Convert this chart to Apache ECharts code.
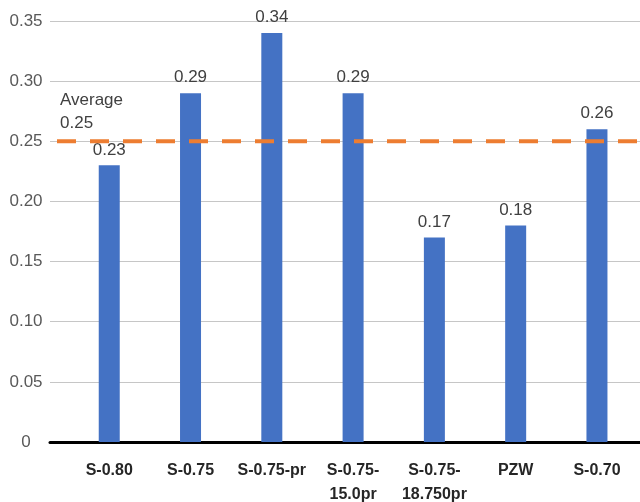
<!DOCTYPE html>
<html>
<head>
<meta charset="utf-8">
<script src="https://cdn.jsdelivr.net/npm/echarts@6/dist/echarts.min.js"></script>
<style>
  html, body { margin: 0; padding: 0; background: #fff; }
  #chart { width: 640px; height: 502px; }
</style>
</head>
<body>
<div id="chart"></div>
<script>
// Specimen names and their measured values
const categories = ['S-0.80', 'S-0.75', 'S-0.75-pr', 'S-0.75-\n15.0pr', 'S-0.75-\n18.750pr', 'PZW', 'S-0.70'];
const values = [0.23, 0.29, 0.34, 0.29, 0.17, 0.18, 0.26];
const average = 0.25;
const yTicks = [0, 0.05, 0.10, 0.15, 0.20, 0.25, 0.30, 0.35];

const FONT = 'Liberation Sans';
const chart = echarts.init(document.getElementById('chart'), null, { renderer: 'canvas' });

chart.setOption({
  animation: false,
  backgroundColor: '#ffffff',
  textStyle: { fontFamily: FONT },
  grid: [
    // full plot area: value axis, gridlines, baseline, average line
    { left: 50, right: 0, top: 21, bottom: 60, containLabel: false, outerBoundsMode: 'none' },
    // bar area
    { left: 68.6, right: 2.4, top: 21, bottom: 60, containLabel: false, outerBoundsMode: 'none' }
  ],
  xAxis: [
    {
      gridIndex: 0, type: 'value', min: 0, max: 1,
      axisLine: { show: true, lineStyle: { color: '#000000', width: 3 } },
      axisTick: { show: false }, axisLabel: { show: false }, splitLine: { show: false }
    },
    {
      gridIndex: 1, type: 'category', data: categories,
      axisLine: { show: false }, axisTick: { show: false },
      axisLabel: {
        interval: 0, margin: 17, fontSize: 16, fontWeight: 'bold',
        color: '#262626', lineHeight: 24, fontFamily: FONT
      }
    }
  ],
  yAxis: [
    {
      gridIndex: 0, type: 'value',
      min: yTicks[0], max: yTicks[yTicks.length - 1], interval: 0.05,
      axisLine: { show: false }, axisTick: { show: false },
      axisLabel: {
        margin: 24, align: 'center', fontSize: 17, color: '#595959', fontFamily: FONT,
        formatter: v => (v === 0 ? '0' : v.toFixed(2))
      },
      splitLine: { show: true, lineStyle: { color: '#c6c6c6', width: 1 } }
    },
    {
      gridIndex: 1, type: 'value',
      min: yTicks[0], max: yTicks[yTicks.length - 1], show: false
    }
  ],
  series: [
    {
      type: 'bar',
      xAxisIndex: 1, yAxisIndex: 1,
      data: values,
      barWidth: 21,
      itemStyle: { color: '#4472C4' },
      label: {
        show: true, position: 'top', distance: 7,
        fontSize: 17, color: '#404040', fontFamily: FONT,
        formatter: p => p.value.toFixed(2)
      },
      z: 2
    },
    {
      type: 'line',
      xAxisIndex: 0, yAxisIndex: 0,
      data: [[0, average], [1, average]],
      symbol: 'none',
      lineStyle: { color: '#ED7D31', width: 4, type: [19, 14], dashOffset: 26 },
      z: 5,
      silent: true
    }
  ],
  graphic: [
    {
      type: 'text',
      left: 60, top: 89,
      style: {
        text: 'Average\n' + average.toFixed(2),
        fontSize: 17, lineHeight: 23, fill: '#404040', fontFamily: FONT
      }
    }
  ]
});
</script>
</body>
</html>
